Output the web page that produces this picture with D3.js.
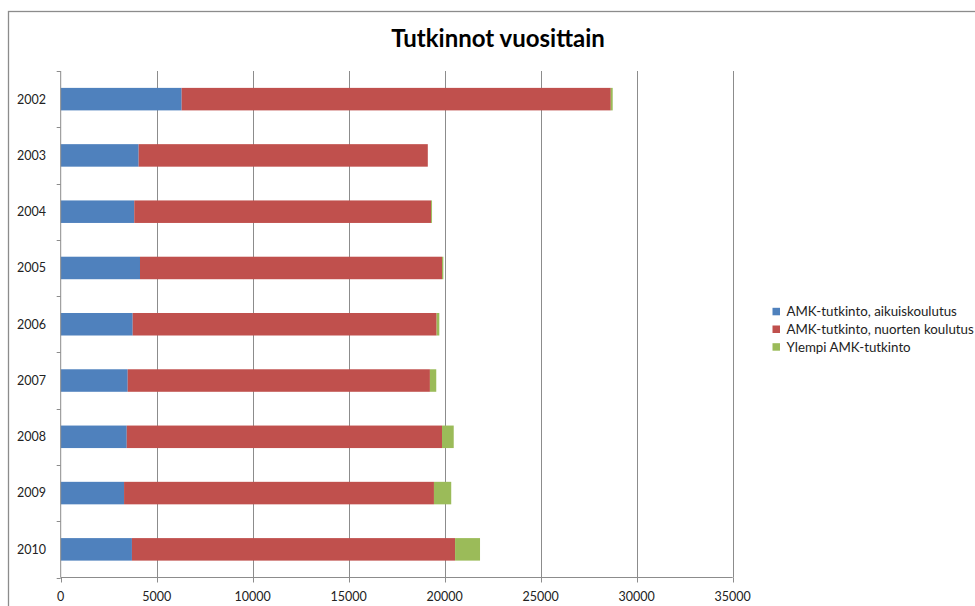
<!DOCTYPE html>
<html><head><meta charset="utf-8">
<script src="https://cdn.jsdelivr.net/npm/d3@7"></script>
<style>body{margin:0;background:#fff}svg{display:block}</style>
</head><body>
<svg id="c" width="975" height="606"></svg>
<script>
const years = ["2002","2003","2004","2005","2006","2007","2008","2009","2010"];
const seriesNames = ["AMK-tutkinto, aikuiskoulutus","AMK-tutkinto, nuorten koulutus","Ylempi AMK-tutkinto"];
const adult = [6300,4060,3830,4130,3750,3490,3440,3300,3710];
const youth = [22350,15060,15460,15730,15830,15740,16420,16140,16830];
const higher = [100,0,50,70,140,330,610,900,1300];
const xTicks = [0,5000,10000,15000,20000,25000,30000,35000];
const colors = ["#4F81BD","#C0504D","#9BBB59"];

(function(){
const svg = d3.select("#c");
const font = "Lato, 'Open Sans', sans-serif";
svg.append("rect").attr("x",8.5).attr("y",11.5).attr("width",1000).attr("height",700)
  .attr("fill","#fff").attr("stroke","#8c8c8c").attr("stroke-width",1.3);

const pL=60.7, pR=732.7, pT=71, pB=577.5;
const x = d3.scaleLinear().domain([0,35000]).range([pL,pR]);
const y = d3.scaleBand().domain(years).range([pT,pB]).paddingInner(0.6).paddingOuter(0.3);
const yEdge = d3.scaleLinear().domain([0,years.length]).range([pT,pB]);

svg.append("g").selectAll("line").data(xTicks.slice(1)).join("line")
  .attr("x1",d=>Math.round(x(d))+0.5).attr("x2",d=>Math.round(x(d))+0.5)
  .attr("y1",pT).attr("y2",pB).attr("stroke","#8c8c8c").attr("stroke-width",1);

const rows = years.map((yr,i)=>({year:yr, s0:adult[i], s1:youth[i], s2:higher[i]}));
const stack = d3.stack().keys(["s0","s1","s2"])(rows);
svg.append("g").selectAll("g").data(stack).join("g").attr("fill",(d,i)=>colors[i])
  .selectAll("rect").data(d=>d).join("rect")
  .attr("x",d=>x(d[0])).attr("width",d=>Math.max(0,x(d[1])-x(d[0])))
  .attr("y",d=>y(d.data.year)).attr("height",y.bandwidth());

const xg = svg.append("g").attr("transform",`translate(0,${pB})`);
xg.append("line").attr("x1",pL).attr("x2",pR).attr("stroke","#8c8c8c");
xg.selectAll("line.t").data(xTicks).join("line").attr("class","t")
  .attr("x1",d=>Math.round(x(d))+0.5).attr("x2",d=>Math.round(x(d))+0.5)
  .attr("y1",0).attr("y2",5).attr("stroke","#8c8c8c");
xg.selectAll("text").data(xTicks).join("text")
  .attr("x",d=>x(d)).attr("y",23).attr("text-anchor","middle")
  .attr("font-family",font).attr("font-size",12.5).attr("fill","#222").text(d=>d);

const yg = svg.append("g");
yg.append("line").attr("x1",pL).attr("x2",pL).attr("y1",pT).attr("y2",pB).attr("stroke","#8c8c8c");
yg.selectAll("line.t").data(d3.range(years.length+1)).join("line").attr("class","t")
  .attr("x1",pL-4).attr("x2",pL).attr("y1",d=>Math.round(yEdge(d))+0.5).attr("y2",d=>Math.round(yEdge(d))+0.5)
  .attr("stroke","#8c8c8c");
yg.selectAll("text").data(years).join("text")
  .attr("x",46).attr("y",d=>y(d)+y.bandwidth()/2).attr("dy","0.35em").attr("text-anchor","end")
  .attr("font-family",font).attr("font-size",12.5).attr("fill","#222").text(d=>d);

svg.append("text").attr("x",498).attr("y",47).attr("text-anchor","middle")
  .attr("font-family",font).attr("font-weight","bold").attr("font-size",24).attr("fill","#000")
  .text("Tutkinnot vuosittain");

const lg = svg.append("g").selectAll("g").data(seriesNames).join("g")
  .attr("transform",(d,i)=>`translate(772.5,${311.5+i*17.7})`);
lg.append("rect").attr("x",0).attr("y",-3.7).attr("width",7.5).attr("height",7.5).attr("fill",(d,i)=>colors[i]);
lg.append("text").attr("x",14).attr("y",0).attr("dy","0.35em")
  .attr("font-family",font).attr("font-size",13.3).attr("fill","#222").text(d=>d);
})();
</script>
</body></html>
